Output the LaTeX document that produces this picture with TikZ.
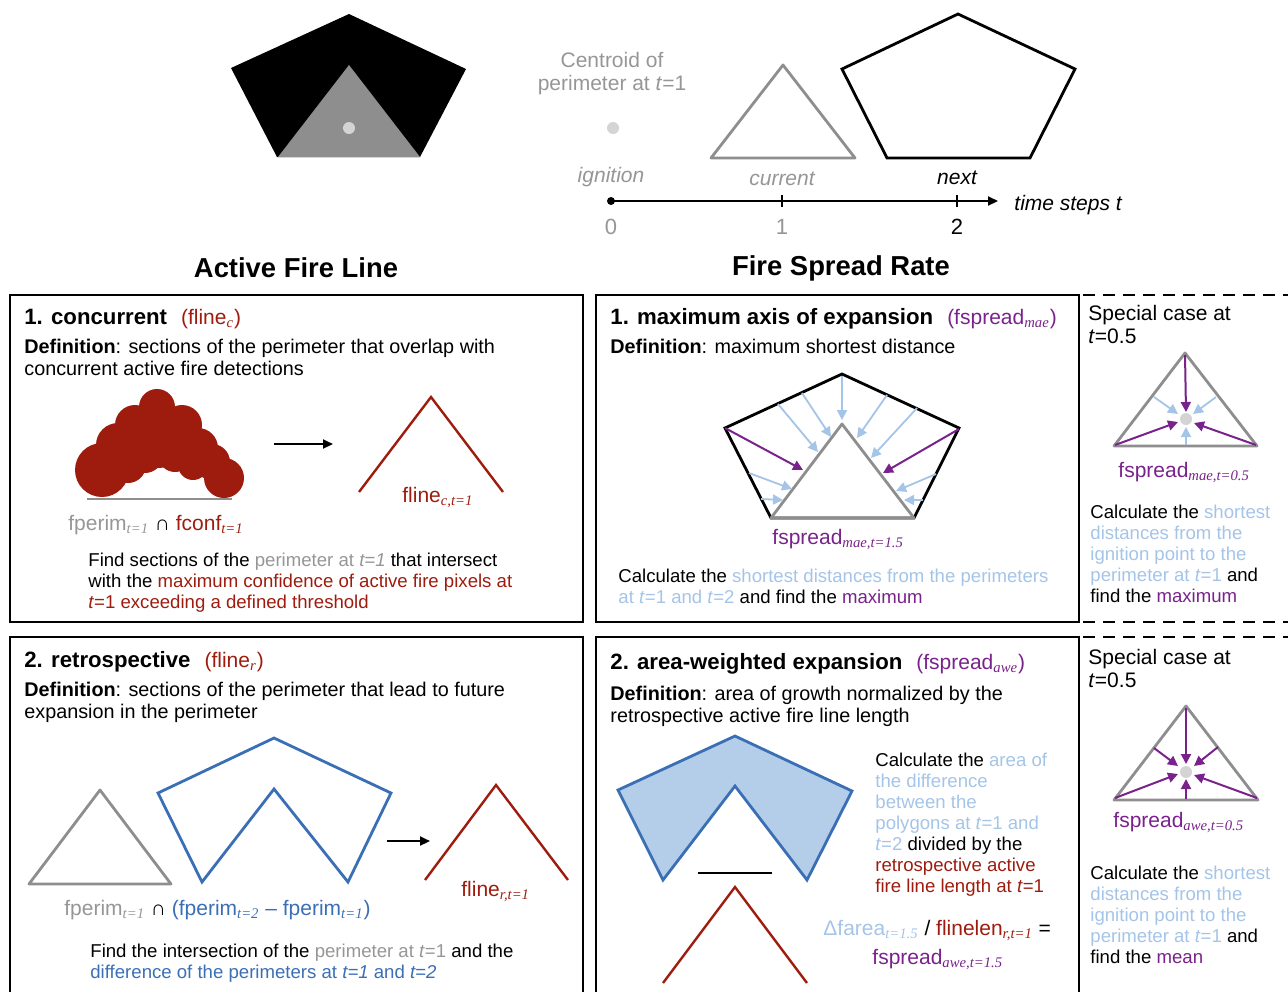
\documentclass[tikz,border=0pt]{standalone}
\usepackage{fontspec}
\setmainfont{Liberation Sans}
\newfontfamily\subfont{Liberation Serif}
\usetikzlibrary{arrows.meta}

\definecolor{firered}{RGB}{158,28,14}
\definecolor{spreadpurple}{RGB}{122,34,140}
\definecolor{paleblue}{RGB}{164,196,232}
\definecolor{perimblue}{RGB}{58,111,181}
\definecolor{areablue}{RGB}{180,205,233}
\definecolor{perimgray}{RGB}{142,142,142}
\definecolor{labelgray}{RGB}{150,150,150}
\definecolor{dotgray}{RGB}{212,212,212}

\newcommand{\sbs}[1]{\textsubscript{\subfont\itshape #1}}
\newcommand{\tstep}{\textit{t}}

\begin{document}
\begin{tikzpicture}[
    x=0.5pt, y=-0.5pt,
    txt/.style={inner sep=0pt, anchor=north west, align=left,
      font=\fontsize{9.3}{10.5}\selectfont},
    deftxt/.style={txt, font=\fontsize{9.9}{11}\selectfont},
    sidetxt/.style={txt, font=\fontsize{10.5}{11.5}\selectfont},
    lbl/.style={inner sep=0pt, anchor=base west,
      font=\fontsize{10.5}{12}\selectfont},
    paneltitle/.style={inner sep=0pt, anchor=base west,
      font=\fontsize{11.1}{13}\selectfont\bfseries},
    heading/.style={inner sep=0pt, font=\fontsize{13.7}{16}\selectfont\bfseries},
    axislbl/.style={inner sep=0pt, font=\fontsize{10.5}{12}\selectfont\itshape},
    ticklbl/.style={inner sep=0pt, font=\fontsize{11}{12}\selectfont},
    panel/.style={draw, line width=1pt},
    sideline/.style={draw, line width=0.9pt, dash pattern=on 6pt off 4pt},
    gtri/.style={draw=perimgray, line width=1.4pt, line join=round},
    bpoly/.style={draw, line width=1.4pt, line join=miter},
    wedge/.style={draw=firered, line width=1.2pt},
    parrow/.style={draw=spreadpurple, line width=1pt, -{Triangle[length=5pt,width=5pt]}},
    barrow/.style={draw=paleblue, line width=0.9pt, -{Triangle[length=5pt,width=5pt]}},
    karrow/.style={draw, line width=1pt, -{Triangle[length=5pt,width=4.5pt]}}
]
  \useasboundingbox (0,0) rectangle (1288,992);

  % Fire perimeters over time (top)
  \fill (349,14) -- (466,69) -- (420,157) -- (277,157) -- (231,68) -- cycle;
  \fill[perimgray] (349,65) -- (420,157) -- (278,157) -- cycle;
  \fill[dotgray] (349,128) circle (3pt);

  \node[inner sep=0pt, align=center, text=labelgray,
    font=\fontsize{10.5}{11.5}\selectfont] (centroid) at (612,74) {Centroid of\\perimeter at \tstep=1};
  \fill[dotgray] (613,128) circle (3pt);
  \draw[gtri] (783,65) -- (855,158) -- (711,158) -- cycle;
  \draw[bpoly] (958,14) -- (1075,69) -- (1030,158) -- (887,158) -- (842,69) -- cycle;

  % Time axis
  \coordinate (t0) at (611,201);
  \coordinate (t1) at (782,201);
  \coordinate (t2) at (957,201);
  \coordinate (tend) at (998,201);
  \fill (t0) circle (2pt);
  \draw[karrow] (t0) -- (tend);
  \foreach \p in {t1,t2}
    \draw[line width=1pt] ([yshift=3pt]\p) -- ([yshift=-3pt]\p);
  \node[axislbl, text=labelgray] (ign) at (611,177) {ignition};
  \node[axislbl, text=labelgray] (cur) at (782,179) {current};
  \node[axislbl] (nxt) at (957,178) {next};
  \node[axislbl, anchor=west] (tsteps) at (1014,205) {time steps \textit{t}};
  \node[ticklbl, text=labelgray] (n0) at (611,227) {0};
  \node[ticklbl, text=labelgray] (n1) at (782,227) {1};
  \node[ticklbl] (n2) at (957,227) {2};

  % Column headings
  \node[heading] (hline) at (296,268) {Active Fire Line};
  \node[heading] (hrate) at (841,268) {Fire Spread Rate};

  % Panels
  \draw[panel] (10,295) rectangle (583,622);
  \draw[panel] (596,295) rectangle (1079,622);
  \draw[panel] (10,992) -- (10,637) -- (583,637) -- (583,992);
  \draw[panel] (596,992) -- (596,637) -- (1079,637) -- (1079,992);
  \draw[sideline] (1083,295) -- (1288,295);
  \draw[sideline] (1083,622) -- (1288,622);
  \draw[sideline] (1083,637) -- (1288,637);

  % 1. concurrent
  \node[paneltitle] (concT) at (24,324) {1. concurrent\hspace{7pt}{\mdseries\fontsize{10.5}{12}\selectfont\color{firered}(fline\sbs{c})}};
  \node[deftxt] (concD) at (24,339) {\textbf{Definition}: sections of the perimeter that overlap with\\concurrent active fire detections};
  \draw[perimgray, line width=1.2pt] (87,499) -- (232,499);
  \foreach \cx/\cy/\r in {157/407/18, 135/425/20, 182/425/20, 158/440/28, 118/445/22,
                          198/448/20, 102/470/27, 128/465/18, 212/462/18, 224/478/20,
                          145/455/18, 175/455/17, 193/465/15}
    \fill[firered] (\cx,\cy) circle (\r*0.5pt);
  \node[lbl] (concL) at (68,530) {{\color{labelgray}fperim\sbs{t=1}} ∩ {\color{firered}fconf\sbs{t=1}}};
  \coordinate (concA) at (274,444);
  \coordinate (concB) at (333,444);
  \draw[karrow] (concA) -- (concB);
  \draw[wedge] (359,492) -- (431,397) -- (503,492);
  \node[lbl, text=firered] (flinec) at (402,502) {fline\sbs{c,t=1}};
  \node[txt] (concF) at (88,553) {Find sections of the {\color{labelgray}perimeter at \textit{t=1}} that intersect\\with the {\color{firered}maximum confidence of active fire pixels at}\\{\color{firered}\textit{t}=1 exceeding a defined threshold}};

  % 2. retrospective
  \node[paneltitle] (retroT) at (24,667) {2. retrospective\hspace{7pt}{\mdseries\fontsize{10.5}{12}\selectfont\color{firered}(fline\sbs{r})}};
  \node[deftxt] (retroD) at (24,682) {\textbf{Definition}: sections of the perimeter that lead to future\\expansion in the perimeter};
  \draw[gtri] (100,790) -- (171,884) -- (29,884) -- cycle;
  \draw[bpoly, perimblue] (158,793) -- (274,738) -- (391,793) -- (348,882) -- (274,789) -- (202,882) -- cycle;
  \coordinate (retroA) at (387,841);
  \coordinate (retroB) at (430,841);
  \draw[karrow] (retroA) -- (retroB);
  \draw[wedge] (425,880) -- (496,785) -- (568,880);
  \node[lbl, text=firered] (fliner) at (461,896) {fline\sbs{r,t=1}};
  \node[lbl] (retroL) at (64,915) {{\color{labelgray}fperim\sbs{t=1}} ∩ {\color{perimblue}(fperim\sbs{t=2} – fperim\sbs{t=1})}};
  \node[txt] (retroF) at (90,944) {Find the intersection of the {\color{labelgray}perimeter at \textit{t}=1} and the\\{\color{perimblue}difference of the perimeters at \textit{t=1} and \textit{t=2}}};

  % 1. maximum axis of expansion
  \node[paneltitle] (maeT) at (610,324) {1. maximum axis of expansion\hspace{7pt}{\mdseries\fontsize{10.5}{12}\selectfont\color{spreadpurple}(fspread\sbs{mae})}};
  \node[deftxt] (maeD) at (610,339) {\textbf{Definition}: maximum shortest distance};
  \draw[bpoly] (842,374) -- (959,428) -- (914,518) -- (771,518) -- (725,428) -- cycle;
  \draw[gtri] (842,424) -- (914,518) -- (771,518) -- cycle;
  \foreach \ax/\ay/\bx/\by in {842/376/842/420, 802/393/831/437, 778/404/818/452,
                               887/395/857/438, 917/408/871/458, 749/473/792/489,
                               761/499/783/500, 936/474/896/491, 923/500/904/500}
    \draw[barrow] (\ax,\ay) -- (\bx,\by);
  \draw[parrow] (725,428) -- (803,470);
  \draw[parrow] (959,429) -- (883,473);
  \node[lbl, text=spreadpurple] (maeL) at (772,544) {fspread\sbs{mae,t=1.5}};
  \node[txt] (maeF) at (618,569) {Calculate the {\color{paleblue}shortest distances from the perimeters}\\{\color{paleblue}at \textit{t}=1 and \textit{t}=2} and find the {\color{spreadpurple}maximum}};

  % Special case (mae)
  \node[sidetxt] (maeS) at (1088,305) {Special case at\\\textit{t}=0.5};
  \draw[gtri] (1185,353) -- (1257,446) -- (1114,446) -- cycle;
  \fill[dotgray] (1186,419) circle (3pt);
  \draw[parrow] (1185,355) -- (1186,412);
  \draw[parrow] (1115,445) -- (1178,422);
  \draw[parrow] (1256,445) -- (1194,423);
  \foreach \ax/\ay/\bx/\by in {1154/397/1178/414, 1216/397/1193/414, 1186/445/1186/427}
    \draw[barrow] (\ax,\ay) -- (\bx,\by);
  \node[lbl, text=spreadpurple] (maeSL) at (1118,477) {fspread\sbs{mae,t=0.5}};
  \node[txt] (maeSF) at (1090,505) {Calculate the {\color{paleblue}shortest}\\{\color{paleblue}distances from the}\\{\color{paleblue}ignition point to the}\\{\color{paleblue}perimeter at \textit{t}=1} and\\find the {\color{spreadpurple}maximum}};

  % 2. area-weighted expansion
  \node[paneltitle] (aweT) at (610,669) {2. area-weighted expansion\hspace{7pt}{\mdseries\fontsize{10.5}{12}\selectfont\color{spreadpurple}(fspread\sbs{awe})}};
  \node[deftxt] (aweD) at (610,686) {\textbf{Definition}: area of growth normalized by the\\retrospective active fire line length};
  \draw[bpoly, perimblue, fill=areablue] (618,790) -- (735,736) -- (852,791) -- (807,880) -- (735,786) -- (663,880) -- cycle;
  \draw[line width=1.2pt] (698,873) -- (772,873);
  \draw[wedge] (663,983) -- (735,887) -- (807,983);
  \node[txt] (aweF) at (875,753) {Calculate the {\color{paleblue}area of}\\{\color{paleblue}the difference}\\{\color{paleblue}between the}\\{\color{paleblue}polygons at \textit{t}=1 and}\\{\color{paleblue}\textit{t}=2} divided by the\\{\color{firered}retrospective active}\\{\color{firered}fire line length at \textit{t}=1}};
  \node[lbl] (aweEq) at (823,935) {{\color{paleblue}Δfarea\sbs{t=1.5}} / {\color{firered}flinelen\sbs{r,t=1}} =};
  \node[lbl, text=spreadpurple] (aweL) at (872,964) {fspread\sbs{awe,t=1.5}};

  % Special case (awe)
  \node[sidetxt] (aweS) at (1088,649) {Special case at\\\textit{t}=0.5};
  \draw[gtri] (1186,706) -- (1258,800) -- (1114,800) -- cycle;
  \fill[dotgray] (1186,772) circle (3pt);
  \foreach \ax/\ay/\bx/\by in {1186/708/1186/764, 1154/748/1178/766, 1218/747/1194/766,
                               1115/798/1178/774, 1257/798/1194/775, 1186/799/1186/779}
    \draw[parrow] (\ax,\ay) -- (\bx,\by);
  \node[lbl, text=spreadpurple] (aweSL) at (1113,827) {fspread\sbs{awe,t=0.5}};
  \node[txt] (aweSF) at (1090,866) {Calculate the {\color{paleblue}shortest}\\{\color{paleblue}distances from the}\\{\color{paleblue}ignition point to the}\\{\color{paleblue}perimeter at \textit{t}=1} and\\find the {\color{spreadpurple}mean}};
\end{tikzpicture}
\end{document}
